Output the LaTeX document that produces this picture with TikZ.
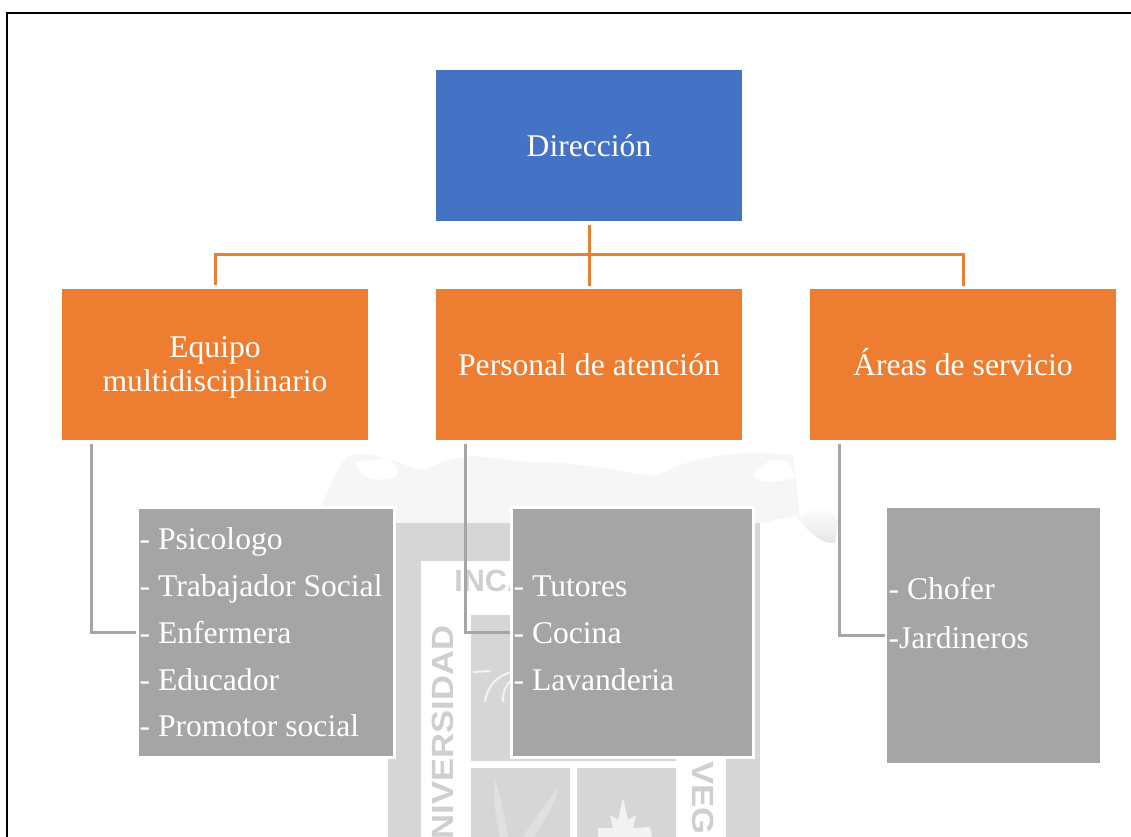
\documentclass[tikz,border=0pt]{standalone}
\usepackage{fontspec}
\setmainfont{Liberation Serif}
\newfontfamily\marcafont{Liberation Sans}
\usepackage{tikz}
\definecolor{azulDir}{HTML}{4472C4}
\definecolor{naranja}{HTML}{ED7D31}
\definecolor{gris}{HTML}{A5A5A5}
\definecolor{marca}{HTML}{D6D6D6}
\definecolor{marcaclara}{HTML}{F6F6F6}
\begin{document}
\begin{tikzpicture}[x=0.75pt, y=-0.75pt,
    cajaBase/.style={minimum width=229.5pt, minimum height=113.25pt, inner sep=2pt, outer sep=0pt, text=white, align=center, font=\fontsize{23.7pt}{25.5pt}\selectfont, execute at begin node={\spaceskip=6pt\relax}},
    cajaDir/.style={cajaBase, fill=azulDir},
    cajaArea/.style={cajaBase, fill=naranja, text width=222pt},
    cajaLista/.style={minimum height=187.5pt, inner xsep=1.5pt, inner ysep=0pt, outer sep=0pt, text=white, fill=gris, draw=white, line width=2.25pt, align=left, font=\fontsize{23.7pt}{35.1pt}\selectfont, execute at begin node={\spaceskip=6pt\relax}},
    lineaNar/.style={draw=naranja, line width=2.25pt, shorten <=3pt, shorten >=2.25pt},
    lineaGris/.style={draw=gris, line width=2.25pt, shorten <=3pt, shorten >=1.5pt},
    textoMarca/.style={inner sep=0pt, text=black!19, font=\marcafont\bfseries\fontsize{23pt}{23pt}\selectfont},
    rollo/.style={left color=white, middle color=black!8, right color=white}]
    \useasboundingbox (0, 0) rectangle (1131, 837);

    \begin{scope}
        \clip (0, 0) rectangle (1131, 837);
        \fill[marcaclara] (322, 505) .. controls (332, 480) and (340, 462) .. (350, 455) .. controls (380, 450) and (410, 470) .. (425, 470) .. controls (470, 445) and (500, 462) .. (530, 462) .. controls (600, 462) and (640, 478) .. (660, 475) .. controls (700, 450) and (760, 452) .. (793, 455) -- (800, 515) -- (760, 523) -- (360, 523) -- cycle;
        \fill[white] (355, 462) .. controls (360, 480) and (375, 482) .. (395, 478) .. controls (402, 470) and (395, 462) .. (385, 458) -- cycle;
        \fill[white] (752, 475) .. controls (760, 485) and (775, 482) .. (795, 478) .. controls (792, 462) and (785, 458) .. (770, 460) -- cycle;
        \shade[top color=white, bottom color=black!10] (797, 517) .. controls (810, 535) and (825, 545) .. (835, 543) -- (838, 520) -- (825, 505) -- cycle;
        \shade[rollo] (820, 640) .. controls (822, 625) and (832, 628) .. (836, 634) -- (842, 700) -- (832, 705) -- (820, 690) -- cycle;
        \shade[rollo] (820, 740) .. controls (822, 732) and (830, 732) .. (842, 742) -- (842, 815) -- (825, 825) -- (820, 810) -- cycle;
        \shade[rollo] (306, 758) -- (334, 758) -- (332, 790) -- (315, 800) -- (309, 815) -- cycle;
        \fill[marca] (388, 523) rectangle (760, 837);
        \fill[white] (421, 561) rectangle (726, 837);
        \fill[marca] (471, 615) rectangle (676, 761);
        \fill[marca] (471, 768) rectangle (570, 837);
        \fill[marca] (577, 768) rectangle (676, 837);
        \draw[white!70!marca, line width=1.5pt] (473, 672) -- (490, 671);
        \draw[white!70!marca, line width=1.5pt] (512, 672) .. controls (495, 676) and (487, 688) .. (485, 702);
        \draw[white!70!marca, line width=1.5pt] (512, 680) .. controls (505, 685) and (503, 692) .. (503, 702);
        \fill[black!12] (495, 780) .. controls (502, 800) and (505, 820) .. (508, 837) -- (500, 837) .. controls (496, 820) and (493, 800) .. (495, 780) -- cycle;
        \fill[black!12] (558, 788) .. controls (545, 805) and (530, 825) .. (523, 837) -- (533, 837) .. controls (545, 820) and (555, 805) .. (558, 788) -- cycle;
        \fill[black!5] (623, 798) -- (628, 820) -- (636, 815) -- (633, 828) -- (650, 827) -- (652, 837) -- (598, 837) -- (598, 828) -- (613, 828) -- (610, 815) -- (618, 820) -- cycle;
        \node[textoMarca, anchor=west] (marcaInca) at (454, 581) {INCA};
        \node[textoMarca, anchor=east, rotate=90, xscale=1.13] (marcaUni) at (443, 625) {NIVERSIDAD};
        \node[textoMarca, anchor=west, rotate=-90, xscale=1.13] (marcaVeg) at (703, 761) {VEG};
    \end{scope}

    \draw[line width=1.5pt] (7, 837) -- (7, 13) -- (1131, 13);

    \node[cajaDir] (direccion) at (589, 145.5) {Dirección};
    \node[cajaArea] (equipo) at (215, 364.5) {\rule{0pt}{20.7pt}Equipo\\multidisciplinario};
    \node[cajaArea] (personal) at (589, 364.5) {Personal de atención};
    \node[cajaArea, text height=16.2pt] (areas) at (963, 364.5) {Áreas de servicio};

    \node[cajaLista, minimum width=192.75pt, text width=189.75pt] (listaEquipo) at (266, 632.5) {- Psicologo\\- Trabajador Social\\- Enfermera\\- Educador\\- Promotor social};
    \node[cajaLista, minimum width=181.5pt, text width=178.5pt] (listaPersonal) at (632.5, 632.5) {\rule{0pt}{16.5pt}- Tutores\\- Cocina\\- Lavanderia};
    \node[cajaLista, draw=none, minimum width=159.75pt, minimum height=191.25pt, text width=156.75pt, font=\fontsize{23.7pt}{36.75pt}\selectfont] (listaAreas) at (993, 635.5) {\rule{0pt}{19pt}- Chofer\\-Jardineros\\~};

    \coordinate (ramal) at (589, 255);
    \draw[lineaNar] (direccion.south) -- (personal.north);
    \draw[lineaNar] (equipo.north) |- (ramal) -| (areas.north);

    \draw[lineaGris] ([xshift=21.75pt]equipo.south west) |- (listaEquipo.west);
    \draw[lineaGris] ([xshift=21.75pt]personal.south west) |- (listaPersonal.west);
    \draw[lineaGris] ([xshift=21.75pt]areas.south west) |- (listaAreas.west);
\end{tikzpicture}
\end{document}
